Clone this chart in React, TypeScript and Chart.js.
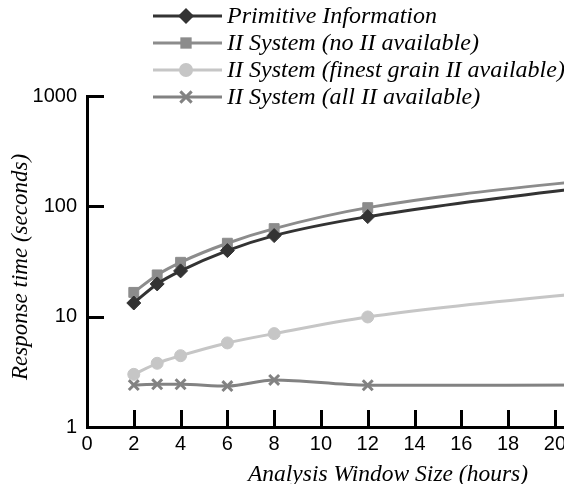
import React, { useEffect, useRef } from 'react';
import { Chart, registerables } from 'chart.js';

Chart.register(...registerables);

// ---- data ----
const windowHours = [2, 3, 4, 6, 8, 12, 24];
const primitiveInfo = [13.3, 19.8, 26, 39.7, 54.3, 80.7, 175];
const noIIAvailable = [16.6, 23.9, 31.1, 46.3, 62.8, 97.3, 198];
const finestGrainII = [3.0, 3.78, 4.43, 5.78, 7.02, 9.94, 18.7];
const allIIAvailable = [2.4, 2.44, 2.44, 2.35, 2.67, 2.39, 2.4];

const seriesNames = [
  'Primitive Information',
  'II System (no II available)',
  'II System (finest grain II available)',
  'II System (all II available)',
];
const xTickValues = [0, 2, 4, 6, 8, 10, 12, 14, 16, 18, 20];
const yTickValues = [1, 10, 100, 1000];
const xTitle = 'Analysis Window Size (hours)';
const yTitle = 'Response time (seconds)';

const colors = ['#333333', '#8c8c8c', '#c6c6c6', '#828282'];
const pointStyles = ['rectRot', 'rect', 'circle', 'crossRot'];
const pointRadii = [7, 7, 6, 7];

const SERIF = '"Liberation Serif", "Times New Roman", serif';
const SANS = '"Liberation Sans", Arial, sans-serif';

function drawMarker(ctx: CanvasRenderingContext2D, style: string, x: number, y: number, r: number, color: string) {
  ctx.save();
  ctx.fillStyle = color;
  ctx.strokeStyle = color;
  ctx.lineWidth = 3;
  ctx.beginPath();
  if (style === 'rectRot') {
    ctx.moveTo(x, y - r);
    ctx.lineTo(x + r, y);
    ctx.lineTo(x, y + r);
    ctx.lineTo(x - r, y);
    ctx.closePath();
    ctx.fill();
  } else if (style === 'rect') {
    const s = r * Math.SQRT1_2;
    ctx.rect(x - s, y - s, 2 * s, 2 * s);
    ctx.fill();
  } else if (style === 'circle') {
    ctx.arc(x, y, r, 0, Math.PI * 2);
    ctx.fill();
  } else {
    const s = r * Math.SQRT1_2;
    ctx.moveTo(x - s, y - s);
    ctx.lineTo(x + s, y + s);
    ctx.moveTo(x + s, y - s);
    ctx.lineTo(x - s, y + s);
    ctx.stroke();
  }
  ctx.restore();
}

const decorPlugin = {
  id: 'decor',
  afterDraw(chart: any) {
    const ctx: CanvasRenderingContext2D = chart.ctx;
    const { left, bottom } = chart.chartArea;
    const xs = chart.scales.x;
    const ys = chart.scales.y;
    ctx.save();
    // inward tick marks
    ctx.strokeStyle = '#000';
    ctx.lineWidth = 3;
    ctx.beginPath();
    yTickValues.forEach((v) => {
      if (v === 1) return;
      const py = Math.round(ys.getPixelForValue(v)) + 0.5;
      ctx.moveTo(left, py);
      ctx.lineTo(left + 17, py);
    });
    xTickValues.forEach((v) => {
      if (v === 0) return;
      const px = Math.round(xs.getPixelForValue(v)) + 0.5;
      ctx.moveTo(px, bottom);
      ctx.lineTo(px, bottom - 17);
    });
    ctx.stroke();

    // axis titles
    ctx.fillStyle = '#000';
    ctx.textAlign = 'center';
    ctx.textBaseline = 'middle';
    ctx.font = `italic 23.5px ${SERIF}`;
    ctx.fillText(xTitle, 388, 475);
    ctx.save();
    ctx.translate(21, 267);
    ctx.rotate(-Math.PI / 2);
    ctx.font = `italic 23px ${SERIF}`;
    ctx.fillText(yTitle, 0, 0);
    ctx.restore();

    // legend
    const rowY = [16, 43, 70, 97];
    seriesNames.forEach((name, i) => {
      const y = rowY[i];
      ctx.strokeStyle = colors[i];
      ctx.lineWidth = 3;
      ctx.beginPath();
      ctx.moveTo(153, y);
      ctx.lineTo(222, y);
      ctx.stroke();
      drawMarker(ctx, pointStyles[i], 186, y, pointRadii[i] + 1, colors[i]);
      ctx.fillStyle = '#000';
      ctx.textAlign = 'left';
      ctx.textBaseline = 'middle';
      ctx.font = `italic 24px ${SERIF}`;
      ctx.fillText(name, 227, y + 1);
    });
    ctx.restore();
  },
};

export default function App() {
  const canvasRef = useRef<HTMLCanvasElement | null>(null);

  useEffect(() => {
    const canvas = canvasRef.current;
    if (!canvas) return;
    const seriesValues = [primitiveInfo, noIIAvailable, finestGrainII, allIIAvailable];
    const chart = new Chart(canvas, {
      type: 'line',
      data: {
        datasets: seriesNames.map((name, i) => ({
          label: name,
          data: windowHours.map((h, j) => ({ x: h, y: seriesValues[i][j] })),
          borderColor: colors[i],
          backgroundColor: colors[i],
          borderWidth: 3,
          pointStyle: pointStyles[i] as any,
          pointRadius: pointRadii[i],
          pointBorderWidth: i === 3 ? 3 : 1,
          pointBackgroundColor: colors[i],
          pointBorderColor: colors[i],
          cubicInterpolationMode: 'monotone' as const,
          fill: false,
        })),
      },
      options: {
        responsive: false,
        animation: false,
        events: [],
        devicePixelRatio: 1,
        layout: { padding: { top: 96, left: 0, right: 0, bottom: 0 } },
        plugins: {
          legend: { display: false },
          tooltip: { enabled: false },
          title: { display: false },
        },
        scales: {
          x: {
            type: 'linear',
            min: 0,
            max: 21.5,
            afterBuildTicks: (s: any) => {
              s.ticks = xTickValues.map((v) => ({ value: v }));
            },
            afterFit: (s: any) => {
              s.height = 57;
            },
            grid: { display: false },
            border: { display: true, width: 3, color: '#000' },
            ticks: {
              autoSkip: false,
              maxRotation: 0,
              padding: -3,
              color: '#000',
              font: { family: SANS, size: 20 },
            },
          },
          y: {
            type: 'logarithmic',
            min: 1,
            max: 1000,
            afterBuildTicks: (s: any) => {
              s.ticks = yTickValues.map((v) => ({ value: v }));
            },
            afterFit: (s: any) => {
              s.width = 87;
            },
            grid: { display: false },
            border: { display: true, width: 3, color: '#000' },
            ticks: {
              padding: 2,
              color: '#000',
              font: { family: SANS, size: 20 },
              callback: (v: any) => String(v),
            },
          },
        },
      },
      plugins: [decorPlugin],
    });
    return () => chart.destroy();
  }, []);

  return (
    <div
      style={{
        position: 'fixed',
        left: 0,
        top: 0,
        width: 564,
        height: 484,
        overflow: 'hidden',
        background: '#fff',
      }}
    >
      <canvas ref={canvasRef} width={600} height={484} style={{ display: 'block' }} />
    </div>
  );
}
